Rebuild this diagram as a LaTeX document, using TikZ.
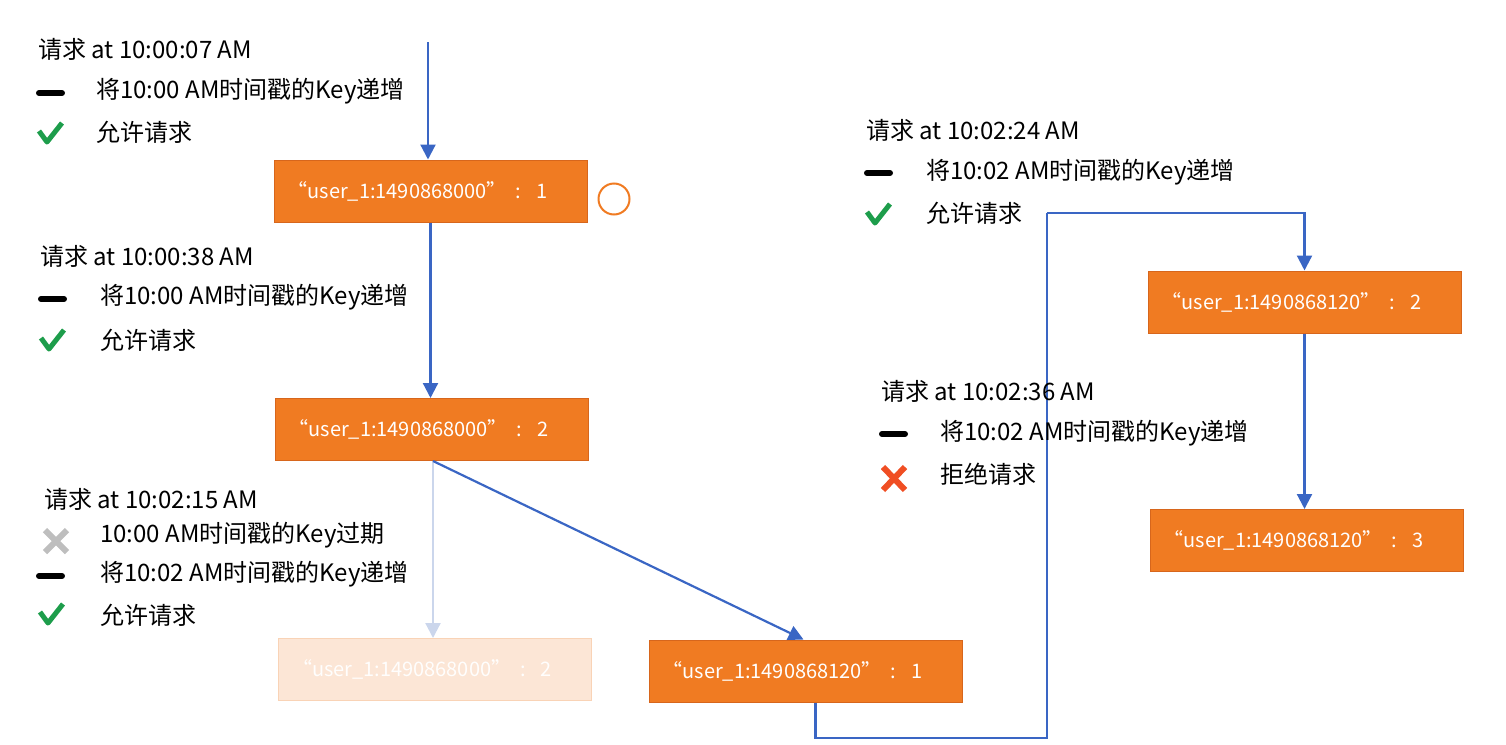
\documentclass[tikz,border=0pt]{standalone}
\usepackage{fontspec}
\setmainfont{Noto Sans CJK SC}
\usetikzlibrary{arrows.meta}
\definecolor{keyorange}{HTML}{F07B22}
\definecolor{keyedge}{HTML}{D7661C}
\definecolor{fadefill}{HTML}{FCE6D6}
\definecolor{fadeedge}{HTML}{F9D3B6}
\definecolor{flowblue}{HTML}{3A66C4}
\definecolor{fadeblue}{HTML}{CBD6EC}
\definecolor{okgreen}{HTML}{1D9D4B}
\definecolor{nored}{HTML}{F04E23}
\definecolor{offgray}{HTML}{BEBEBE}
\newcommand{\keytext}[2]{“user\_1:#1”\hspace{9pt}:\hspace{15pt}#2\rule{26pt}{0pt}}
\begin{document}
\begin{tikzpicture}[x=1pt,y=-1pt,
  keybox/.style={draw=keyedge,fill=keyorange,line width=1pt,minimum width=313pt,minimum height=62pt,
    text=white,font=\fontsize{20}{22}\selectfont,inner sep=0pt},
  fadebox/.style={keybox,draw=fadeedge,fill=fadefill,text=white!96!fadefill},
  flow/.style={draw=flowblue,line width=2.2pt,-{Triangle[width=15pt,length=15pt]}},
  fadeflow/.style={flow,draw=fadeblue,-{Triangle[width=15pt,length=15pt,fill=fadeblue]}},
  route/.style={draw=flowblue,line width=2.2pt},
  label/.style={anchor=west,inner sep=0pt,font=\fontsize{24}{27}\selectfont},
  dashmark/.style={line width=6pt,line cap=round,black},
  checkmark/.style={line width=5pt,okgreen,line join=round},
  crossmark/.style={line width=6pt}
]
\useasboundingbox (0,0) rectangle (1506,744);

% key counters
\node[keybox]  (A) at (430.5,191)   {\keytext{1490868000}{1}};
\node[keybox]  (B) at (431.5,429.5) {\keytext{1490868000}{2}};
\node[fadebox] (C) at (435,669.5)   {\keytext{1490868000}{2}};
\node[keybox]  (D) at (805.5,671)   {\keytext{1490868120}{1}};
\node[keybox]  (E) at (1304.5,302)  {\keytext{1490868120}{2}};
\node[keybox]  (F) at (1306.5,540.5){\keytext{1490868120}{3}};

\node[draw=keyorange,line width=2pt,circle,minimum size=31pt,inner sep=0pt] (ring) at (614,199) {};

% connectors
\coordinate (start) at (428,42);
\coordinate (low) at (1047,738);
\coordinate (high) at (1047,213);
\coordinate (bout) at (433,461);
\draw[flow] (start) -- (start |- A.north);
\draw[flow] (A.south) -- (A.south |- B.north);
\draw[fadeflow] (bout) -- (bout |- C.north);
\draw[flow] (bout) -- ([xshift=-2pt]D.north);
\draw[route] ([xshift=10pt]D.south) |- (low) -- (high);
\draw[flow] (high) -| (E.north);
\draw[flow] (E.south) -- (E.south |- F.north);

% request at 10:00:07
\node[label] (t1) at (38,49) {请求 at 10:00:07 AM};
\draw[dashmark] (39,93) -- (62,93);
\node[label] (t1a) at (96,91) {将10:00 AM时间戳的Key递增};
\draw[checkmark] (39,131) -- (47,142) -- (62,123);
\node[label] (t1b) at (96,132) {允许请求};

% request at 10:00:38
\node[label] (t2) at (40,256) {请求 at 10:00:38 AM};
\draw[dashmark] (41,299) -- (64,299);
\node[label] (t2a) at (100,297) {将10:00 AM时间戳的Key递增};
\draw[checkmark] (41,338) -- (49,349) -- (64,330);
\node[label] (t2b) at (100,340) {允许请求};

% request at 10:02:15
\node[label] (t3) at (44,499) {请求 at 10:02:15 AM};
\draw[crossmark,offgray] (45,530) -- (67,552) (67,530) -- (45,552);
\node[label] (t3a) at (100,535) {10:00 AM时间戳的Key过期};
\draw[dashmark] (39,576) -- (62,576);
\node[label] (t3b) at (100,574) {将10:02 AM时间戳的Key递增};
\draw[checkmark] (40,612) -- (48,623) -- (63,604);
\node[label] (t3c) at (100,615) {允许请求};

% request at 10:02:24
\node[label] (t4) at (866,130) {请求 at 10:02:24 AM};
\draw[dashmark] (867,173) -- (890,173);
\node[label] (t4a) at (926,172) {将10:02 AM时间戳的Key递增};
\draw[checkmark] (867,212) -- (875,223) -- (890,204);
\node[label] (t4b) at (926,213) {允许请求};

% request at 10:02:36
\node[label] (t5) at (881,391) {请求 at 10:02:36 AM};
\draw[dashmark] (882,434) -- (905,434);
\node[label] (t5a) at (940,433) {将10:02 AM时间戳的Key递增};
\draw[crossmark,nored] (883,467) -- (905,490) (905,467) -- (883,490);
\node[label] (t5b) at (940,474) {拒绝请求};
\end{tikzpicture}
\end{document}
